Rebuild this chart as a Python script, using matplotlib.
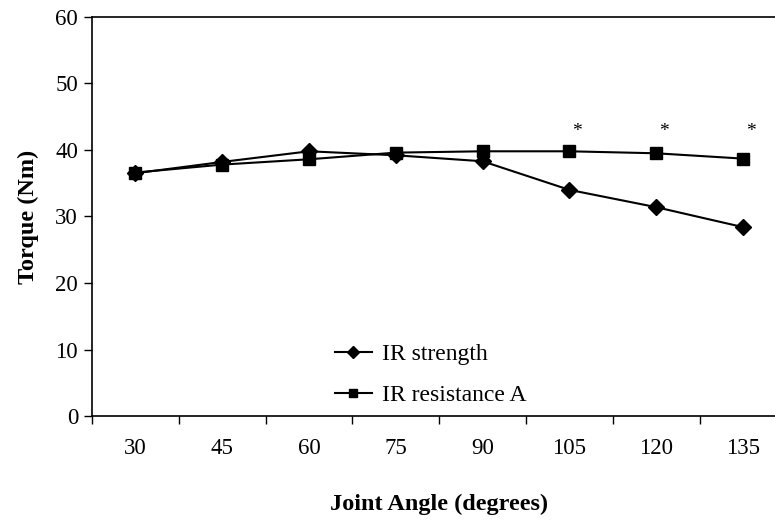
import matplotlib
matplotlib.use("Agg")
import matplotlib.pyplot as plt
import numpy as np

# joint angles (categories) and torque values
angles = ["30", "45", "60", "75", "90", "105", "120", "135"]
ir_strength = [36.5, 38.2, 39.8, 39.2, 38.3, 34.0, 31.4, 28.4]
ir_resistance_a = [36.6, 37.8, 38.6, 39.6, 39.8, 39.8, 39.5, 38.7]
star_angles = ["105", "120", "135"]
star_level = 42.8

plt.rcParams['font.family'] = ['Liberation Serif', 'DejaVu Serif']

fig = plt.figure(figsize=(7.75, 5.21), dpi=100)
ax = fig.add_axes([0.1187, 0.2015, 0.896, 0.766])

x = np.arange(len(angles))
ax.plot(x, ir_strength, '-D', color='black', lw=1.5, ms=8, label='IR strength')
ax.plot(x, ir_resistance_a, '-s', color='black', lw=1.5, ms=8, label='IR resistance A')

for a in star_angles:
    ax.text(angles.index(a) + 0.09, star_level, '*', ha='center', va='center', fontsize=14)

ax.set_xlim(-0.5, len(angles) - 0.5)
ax.set_ylim(0, 60)
ax.set_yticks(np.arange(0, 61, 10))
ax.set_xticks(x)
ax.set_xticklabels(angles)
ax.set_xticks(np.arange(-0.5, len(angles), 1), minor=True)
ax.tick_params(axis='x', which='major', length=0, pad=16, labelsize=16.5)
ax.tick_params(axis='x', which='minor', length=6, width=1, direction='out')
ax.tick_params(axis='y', length=6, width=1, direction='out', labelsize=16.5, pad=4)

for s in ax.spines.values():
    s.set_linewidth(1.2)

ax.set_xlabel('Joint Angle (degrees)', fontsize=17.5, fontweight='bold', labelpad=25)
ax.set_ylabel('Torque (Nm)', fontsize=17.5, fontweight='bold', labelpad=12)

ax.legend(loc='upper left', bbox_to_anchor=(0.432, 0.34), bbox_transform=fig.transFigure,
          frameon=False, fontsize=17, handlelength=1.57, handletextpad=0.45,
          labelspacing=0.82, borderpad=0, borderaxespad=0, markerscale=0.75)

fig.savefig('out.png', dpi=100)
